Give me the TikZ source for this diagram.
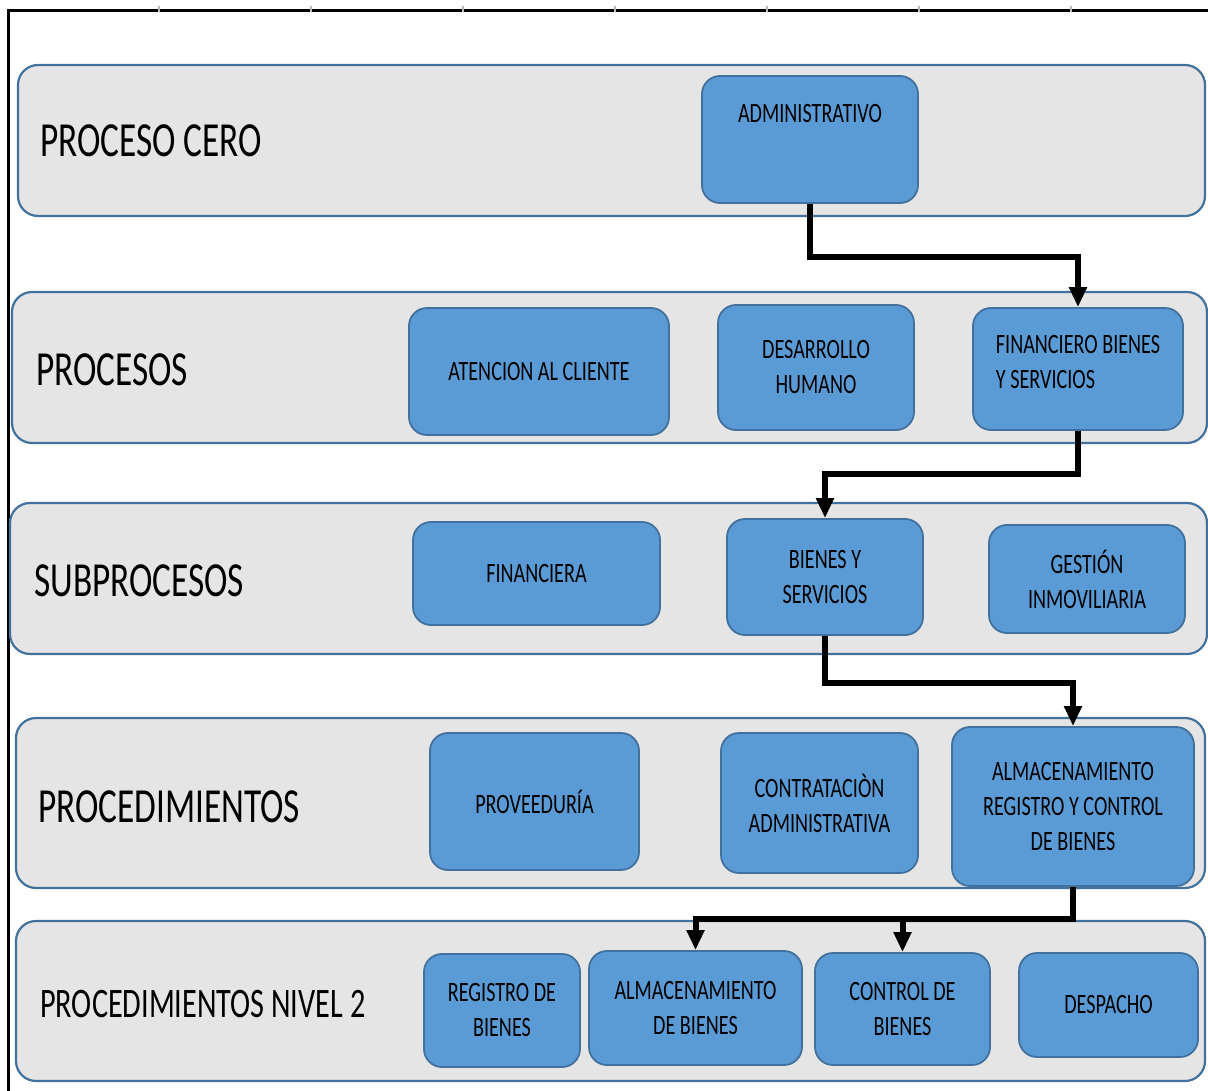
\documentclass[tikz,border=0pt]{standalone}
\usepackage{fontspec}
\setmainfont[FakeStretch=0.72]{Carlito}
\usetikzlibrary{arrows.meta}
\definecolor{bandfill}{HTML}{E5E5E5}
\definecolor{edgeblue}{HTML}{41719C}
\definecolor{boxblue}{HTML}{5B9BD5}
\begin{document}
\begin{tikzpicture}[x=1pt,y=-1pt,
  sz/.style 2 args={minimum width=#1pt, minimum height=#2pt},
  band/.style={draw=edgeblue, fill=bandfill, line width=2.2pt, rounded corners=20pt, inner sep=0pt},
  boxnode/.style={draw=edgeblue, fill=boxblue, line width=1.8pt, rounded corners=18pt,
    align=center, inner sep=0pt, font=\fontsize{28}{35}\selectfont},
  boxtext/.style={inner sep=0pt, font=\fontsize{28}{35}\selectfont},
  bandlabel/.style={anchor=west, inner sep=0pt, font=\fontsize{49}{58}\selectfont},
  flow/.style={line width=6pt, line join=miter, -{Triangle[length=20pt,width=17pt]}}
]
\useasboundingbox (0,0) rectangle (1208,1091);

% outer frame
\draw[line width=3pt] (8,1091) -- (8,11) -- (1208,11);
\foreach \tx in {159,311,463,615,767,919,1071}
  \draw[gray!55, line width=1.4pt] (\tx,6) -- (\tx,12);

% level bands
\node[band, sz={1187}{151}] (b1) at (611.5,140.5) {};
\node[band, sz={1195}{151}] (b2) at (609.5,367.5) {};
\node[band, sz={1197}{151}] (b3) at (608.5,578.5) {};
\node[band, sz={1189}{170}] (b4) at (610.5,803) {};
\node[band, sz={1189}{160}] (b5) at (610.5,1001) {};

\node[bandlabel] (l1) at (40,141) {PROCESO CERO};
\node[bandlabel] (l2) at (36,370) {PROCESOS};
\node[bandlabel] (l3) at (34,581) {SUBPROCESOS};
\node[bandlabel] (l4) at (38,807) {PROCEDIMIENTOS};
\node[bandlabel, font=\fontsize{42}{50}\selectfont] (l5) at (40,1004) {PROCEDIMIENTOS NIVEL 2};

% process boxes
\node[boxnode, sz={216}{127}] (adm) at (810,139.5) {};
\node[boxtext] (admt) at (810,114) {ADMINISTRATIVO};

\node[boxnode, sz={260}{127}] (atc) at (539,371.5) {ATENCION AL CLIENTE};
\node[boxnode, sz={196}{125}] (dh) at (816,367.5) {DESARROLLO\\HUMANO};
\node[boxnode, sz={210}{122}] (fin) at (1078,369) {};
\node[boxtext, align=left] (fint) at (1078,362.5) {FINANCIERO BIENES\\Y SERVICIOS};

\node[boxnode, sz={247}{103}] (fcra) at (536.5,573.5) {FINANCIERA};
\node[boxnode, sz={196}{116}] (bys) at (825,577) {BIENES Y\\SERVICIOS};
\node[boxnode, sz={196}{108}] (gi) at (1087,579) {GESTIÓN\\INMOVILIARIA};

\node[boxnode, sz={209}{137}] (prov) at (534.5,801.5) {PROVEEDURÍA};
\node[boxnode, sz={197}{140}] (cont) at (819.5,803) {CONTRATACIÒN\\ADMINISTRATIVA};
\node[boxnode, sz={242}{159}] (arc) at (1073,806.5) {ALMACENAMIENTO\\REGISTRO Y CONTROL\\DE BIENES};

\node[boxnode, sz={156}{113}] (reg) at (502,1010.5) {REGISTRO DE\\BIENES};
\node[boxnode, sz={213}{114}] (alm) at (695.5,1008) {ALMACENAMIENTO\\DE BIENES};
\node[boxnode, sz={175}{112}] (ctl) at (902.5,1009) {CONTROL DE\\BIENES};
\node[boxnode, sz={179}{104}] (desp) at (1108.5,1005) {DESPACHO};

% connectors
\draw[flow] (adm.south) -- ++(0,53) -| (fin.north);
\draw[flow] (fin.south) -- ++(0,43) -| (bys.north);
\draw[flow] (bys.south) -- ++(0,47) -| (arc.north);
\path (arc.south) ++(0,32) coordinate (jn);
\draw[flow] (arc.south) -- (jn) -| (alm.north);
\draw[flow] (jn -| ctl.north) -- (ctl.north);
\end{tikzpicture}
\end{document}
